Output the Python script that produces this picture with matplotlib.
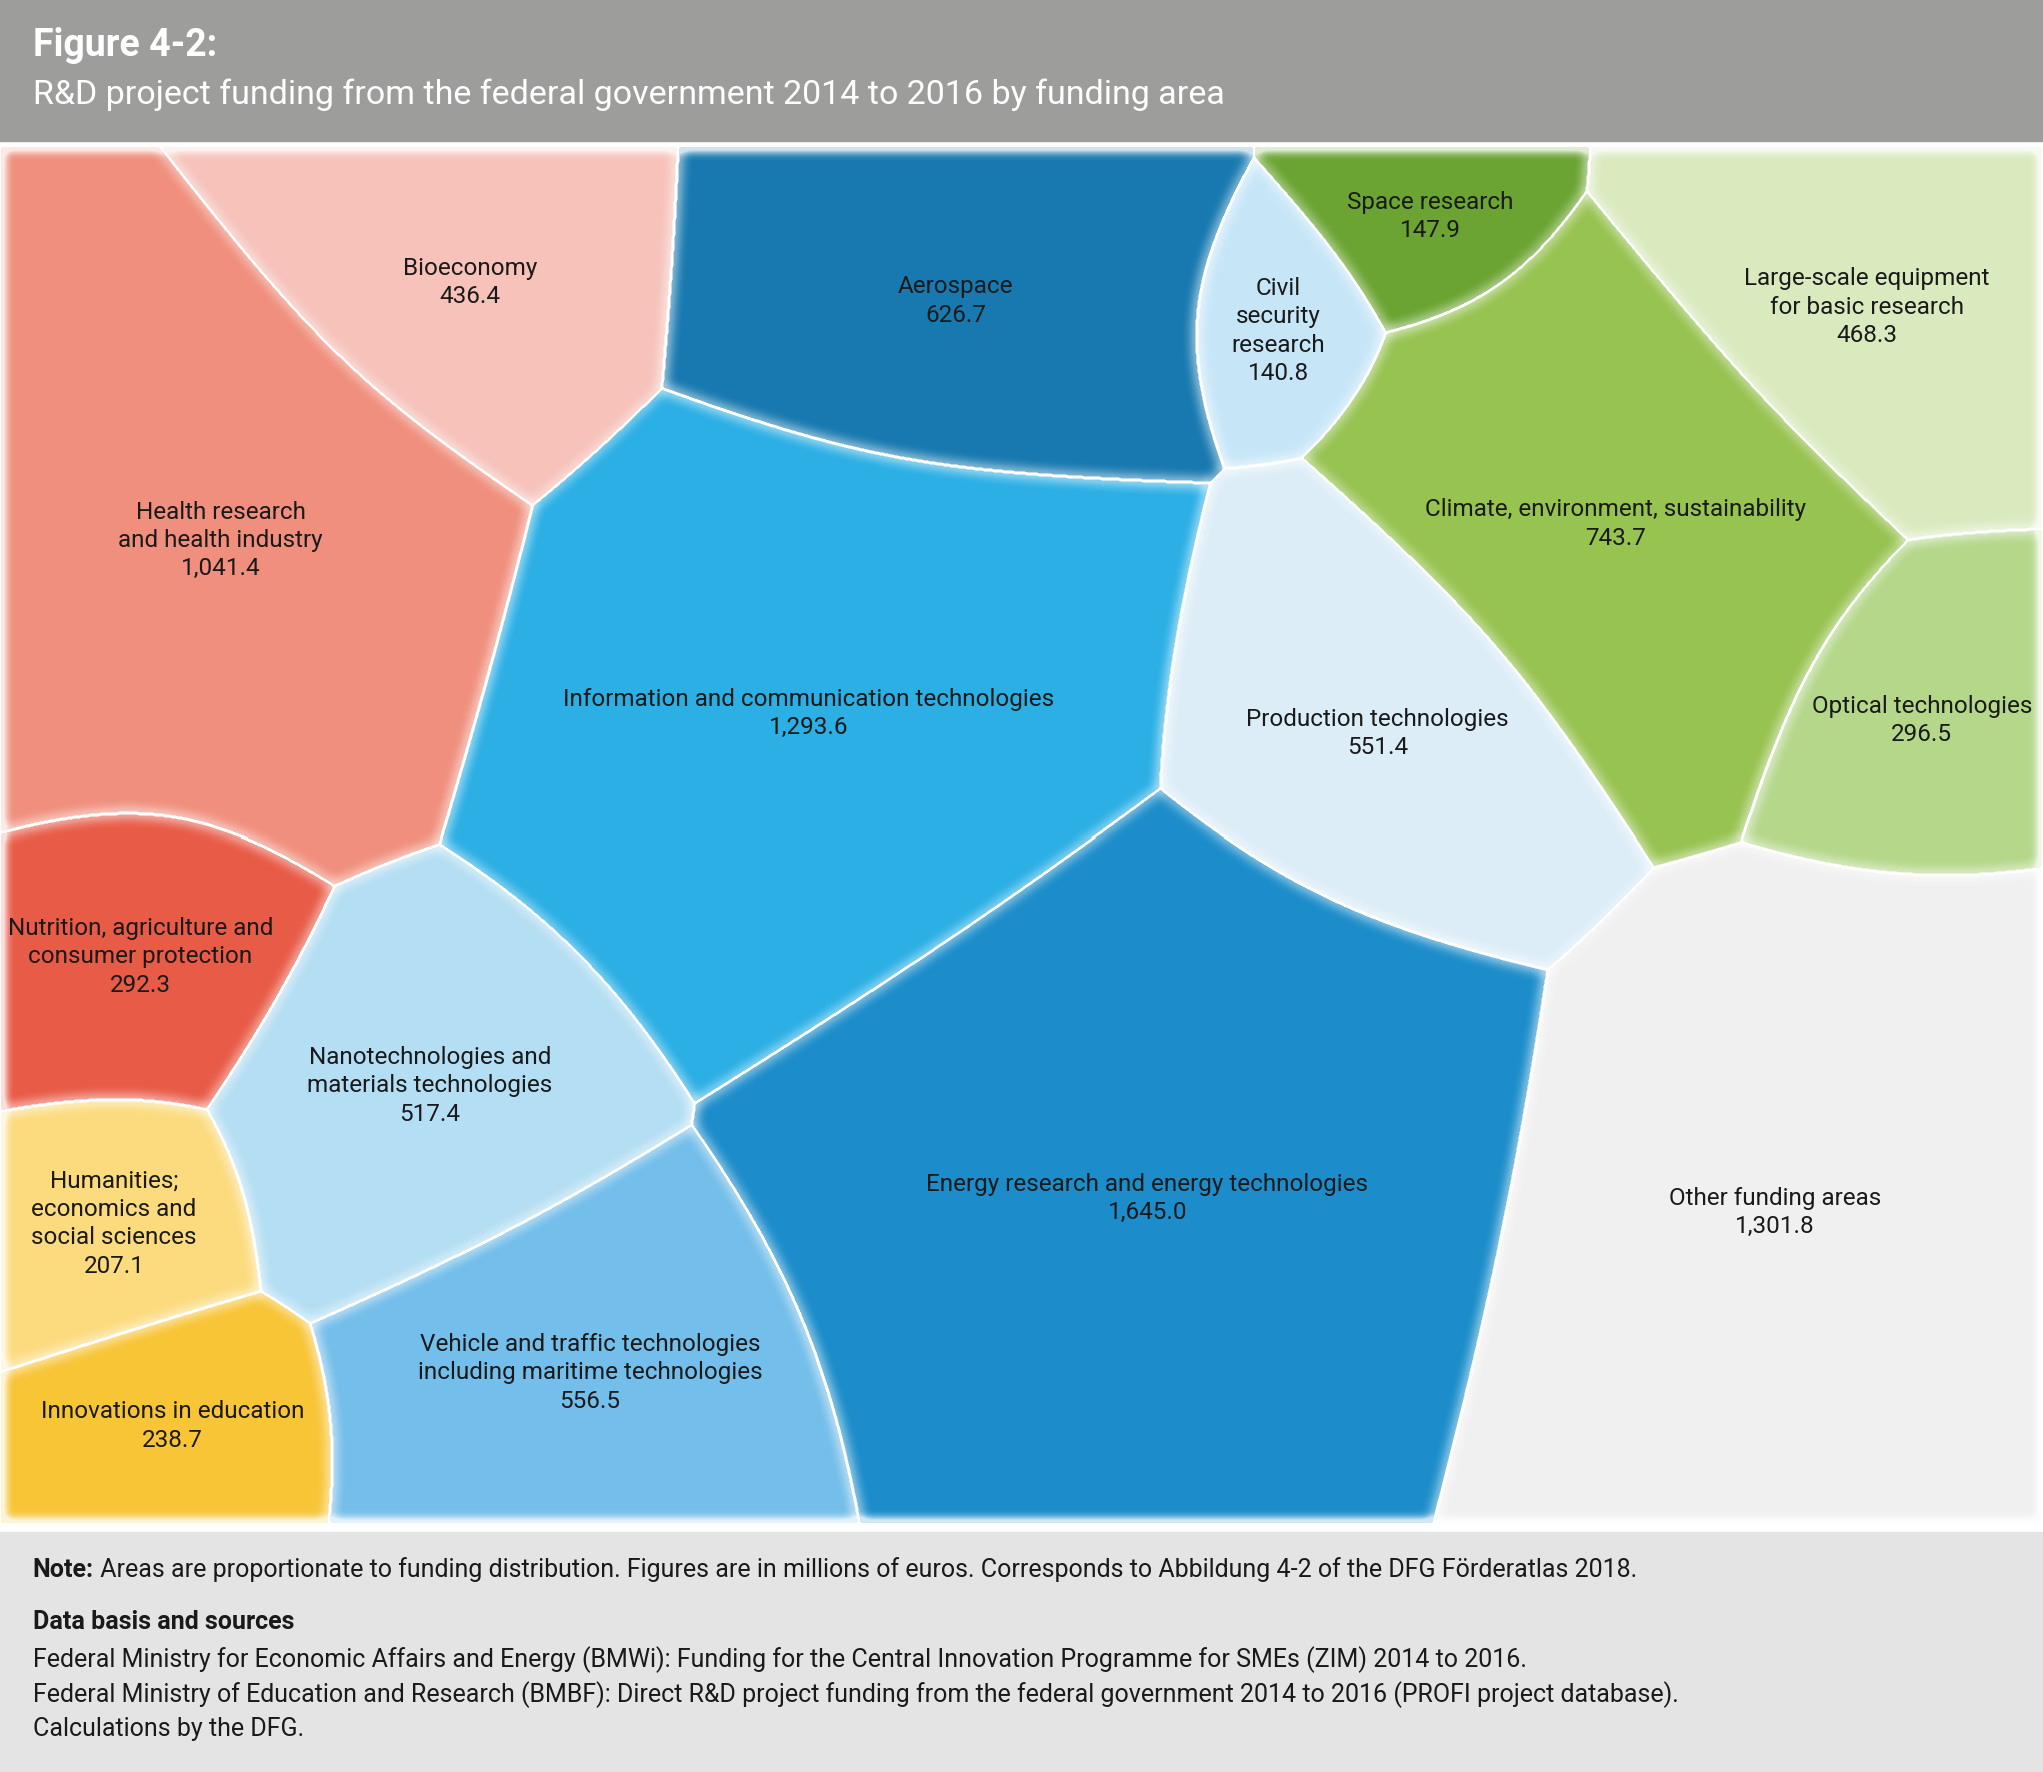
import numpy as np
import matplotlib
matplotlib.use("Agg")
import matplotlib.pyplot as plt
from matplotlib.patches import Rectangle

plt.rcParams['font.family'] = ['Roboto', 'DejaVu Sans']

# funding areas (million euros)
names = [
    "Health research\nand health industry",
    "Bioeconomy",
    "Nutrition, agriculture and\nconsumer protection",
    "Humanities;\neconomics and\nsocial sciences",
    "Innovations in education",
    "Nanotechnologies and\nmaterials technologies",
    "Vehicle and traffic technologies\nincluding maritime technologies",
    "Information and communication technologies",
    "Aerospace",
    "Civil\nsecurity\nresearch",
    "Production technologies",
    "Energy research and energy technologies",
    "Space research",
    "Climate, environment, sustainability",
    "Large-scale equipment\nfor basic research",
    "Optical technologies",
    "Other funding areas",
]
values = [1041.4, 436.4, 292.3, 207.1, 238.7, 517.4, 556.5, 1293.6, 626.7,
          140.8, 551.4, 1645.0, 147.9, 743.7, 468.3, 296.5, 1301.8]
colors = ["#F08F7D", "#F6C2BA", "#E85B47", "#FCDB7E", "#F8C537", "#B4DEF3",
          "#73BEEA", "#2BAFE5", "#1879B0", "#C6E6F8", "#DCEDF8", "#1C8DCA",
          "#6BA432", "#97C351", "#D9EABF", "#B4D78A", "#F0F0F0"]

# layout anchors of the voronoi sites (screen units)
site_x = [165, 345, 120, 105, 160, 345, 475, 640, 700, 985, 1062, 895, 1110, 1265, 1435, 1480, 1460]
site_y = [400, 205, 700, 920, 1100, 825, 1070, 525, 230, 250, 570, 895, 165, 395, 235, 535, 1010]

W, H = 1568, 1360
TOP, BOT = 113, 1170
n = len(values)
sx = np.array(site_x, float)
sy = np.array(site_y, float)


def assign(X, Y, w):
    best = np.full(X.shape, np.inf)
    lab = np.zeros(X.shape, int)
    for i in range(n):
        d = np.hypot(X - sx[i], Y - sy[i]) - w[i]
        m = d < best
        best[m] = d[m]
        lab[m] = i
    return lab


# fit additive weights so the cell areas follow the values
st = 4
X, Y = np.meshgrid(np.arange(st / 2, W, st), np.arange(TOP + st / 2, BOT, st))
vals = np.array(values)
target = vals / vals.sum() * X.size
w = np.zeros(n)
for it in range(300):
    lab = assign(X, Y, w)
    cnt = np.bincount(lab.ravel(), minlength=n)
    lr = 0.8 if it < 150 else 0.3
    w += lr * st * (np.sqrt(target) - np.sqrt(cnt))

# final raster at output resolution
ny = int(round((BOT - TOP) * 1772 / H))
nx = 2043
X, Y = np.meshgrid(np.linspace(0, W, nx), np.linspace(TOP, BOT, ny))
lab = assign(X, Y, w)


def box1(a, r):
    p = np.pad(a, ((r + 1, r), (0, 0)), mode='edge')
    c = np.cumsum(p, axis=0)
    return (c[2 * r + 1:] - c[:-2 * r - 1]) / (2 * r + 1)


def blur(a, r, k=3):
    for _ in range(k):
        a = box1(a, r)
        a = box1(a.T, r).T
    return a


pad = np.pad(lab, 1, constant_values=-1)
c = pad[1:-1, 1:-1]
edge = ((c != pad[:-2, 1:-1]) | (c != pad[2:, 1:-1]) |
        (c != pad[1:-1, :-2]) | (c != pad[1:-1, 2:])).astype(float)
line = np.clip(blur(edge, 1, 1) * 2.2, 0, 1)
glow = np.clip(blur(edge, 5, 3) * 4.0, 0, 1)
alpha = np.clip(np.maximum(line, 0.8 * glow), 0, 1)[..., None]

rgb = np.array([matplotlib.colors.to_rgb(cc) for cc in colors])[lab]
img = rgb * (1 - alpha) + alpha

fig = plt.figure(figsize=(20.43, 17.72), dpi=100)
ax = fig.add_axes([0, 0, 1, 1])
ax.set_xlim(0, W)
ax.set_ylim(H, 0)
ax.axis('off')

ax.add_patch(Rectangle((0, 0), W, 108, color="#9D9D9B", zorder=0))
ax.add_patch(Rectangle((0, 1176), W, H - 1176, color="#E4E4E4", zorder=0))
ax.imshow(img, extent=(0, W, BOT, TOP), aspect='auto', zorder=1, interpolation='nearest')

ax.text(25, 35, "Figure 4-2:", color="white", fontsize=27, fontweight='bold', va='center')
ax.text(25, 73, "R&D project funding from the federal government 2014 to 2016 by funding area",
        color="white", fontsize=24.5, va='center')

for i in range(n):
    m = lab == i
    cx = X[m].mean()
    cy = Y[m].mean()
    ax.text(cx, cy, f"{names[i]}\n{values[i]:,.1f}", ha='center', va='center',
            fontsize=17.5, linespacing=1.3, color="#1a1a1a", zorder=3)

fs = 18
note = ax.text(25, 1205, "Note:", fontsize=fs, fontweight='bold', color="#1a1a1a", va='center')
ax.annotate(" Areas are proportionate to funding distribution. Figures are in millions of euros. "
            "Corresponds to Abbildung 4-2 of the DFG Förderatlas 2018.",
            xy=(1, 0), xycoords=note, ha='left', va='bottom', fontsize=fs, color="#1a1a1a")
ax.text(25, 1245, "Data basis and sources", fontsize=fs, fontweight='bold', color="#1a1a1a", va='center')
foot = [
    "Federal Ministry for Economic Affairs and Energy (BMWi): Funding for the Central Innovation Programme for SMEs (ZIM) 2014 to 2016.",
    "Federal Ministry of Education and Research (BMBF): Direct R&D project funding from the federal government 2014 to 2016 (PROFI project database).",
    "Calculations by the DFG.",
]
for k, s in enumerate(foot):
    ax.text(25, 1274 + 26.5 * k, s, fontsize=fs, color="#1a1a1a", va='center')

fig.savefig("out.png", dpi=100)
